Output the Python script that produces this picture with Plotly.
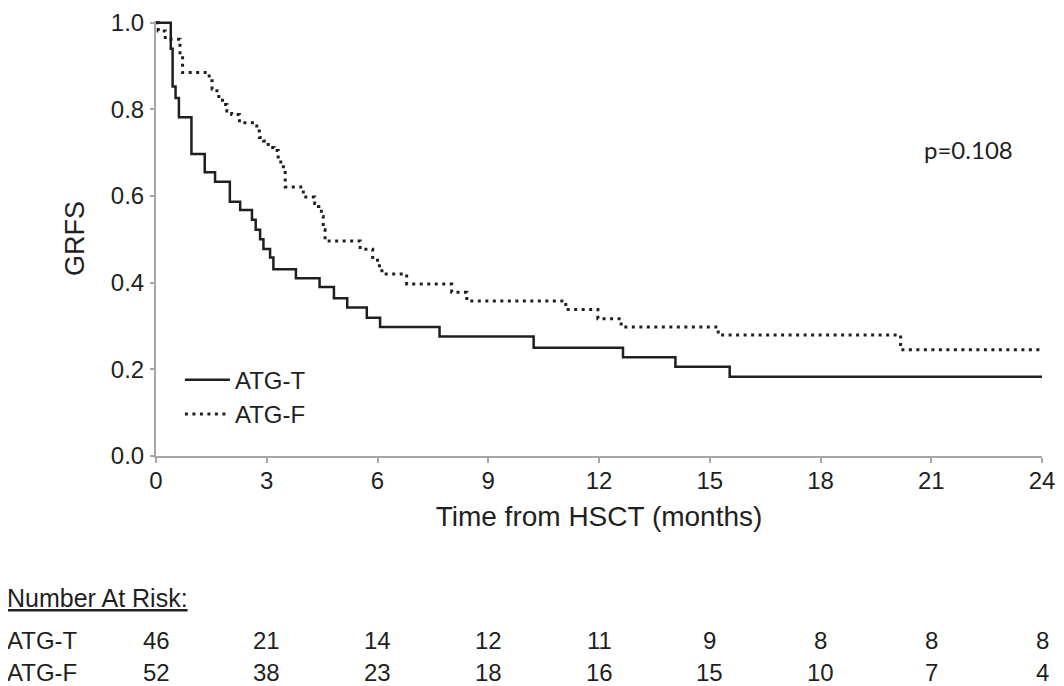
import plotly.graph_objects as go

# Kaplan-Meier step points (months, GRFS)
atg_t_time = [0, 0.40, 0.45, 0.53, 0.62, 0.96, 1.32, 1.60, 2.00, 2.28, 2.60, 2.70,
              2.82, 2.91, 3.09, 3.18, 3.79, 4.43, 4.82, 5.18, 5.71, 6.07, 7.68,
              10.23, 12.65, 14.07, 15.54, 24]
atg_t_surv = [1.0, 0.94, 0.853, 0.826, 0.782, 0.697, 0.655, 0.633, 0.587, 0.568, 0.545, 0.522,
              0.500, 0.478, 0.458, 0.431, 0.410, 0.390, 0.364, 0.343, 0.319, 0.298, 0.276,
              0.250, 0.228, 0.206, 0.183, 0.183]

atg_f_time = [0, 0.06, 0.25, 0.65, 0.72, 1.44, 1.52, 1.65, 1.80, 1.92, 2.05, 2.26,
              2.73, 2.80, 2.91, 3.04, 3.20, 3.31, 3.38, 3.45, 3.50, 3.99, 4.30, 4.40,
              4.48, 4.53, 4.58, 5.53, 5.87, 6.00, 6.12, 6.79, 8.01, 8.42, 11.10, 11.97,
              12.60, 15.23, 20.17, 24]
atg_f_surv = [1.0, 0.981, 0.962, 0.923, 0.885, 0.866, 0.847, 0.830, 0.811, 0.796, 0.788, 0.769,
              0.750, 0.735, 0.727, 0.712, 0.705, 0.690, 0.674, 0.659, 0.621, 0.598, 0.583, 0.576,
              0.553, 0.522, 0.496, 0.477, 0.458, 0.439, 0.420, 0.397, 0.378, 0.358, 0.338, 0.317,
              0.298, 0.279, 0.245, 0.245]

# number at risk table
risk_times = [0, 3, 6, 9, 12, 15, 18, 21, 24]
atg_t_risk = [46, 21, 14, 12, 11, 9, 8, 8, 8]
atg_f_risk = [52, 38, 23, 18, 16, 15, 10, 7, 4]

FONT = "Liberation Sans, Arial, sans-serif"
INK = "#1f1f1f"
AXIS = "#a6a6a6"

fig = go.Figure()
fig.add_trace(go.Scatter(x=atg_t_time, y=atg_t_surv, mode="lines", name="ATG-T",
                         line=dict(shape="hv", color=INK, width=2.5)))
fig.add_trace(go.Scatter(x=atg_f_time, y=atg_f_surv, mode="lines", name="ATG-F",
                         line=dict(shape="hv", color=INK, width=3, dash="3px,4.5px")))

# page body adds 8px, so the figure is 8px smaller than the window
fig.update_layout(
    width=1056, height=678,
    margin=dict(l=148, r=22, t=13, b=230),
    paper_bgcolor="white", plot_bgcolor="white",
    font=dict(family=FONT, size=24, color=INK),
    showlegend=True,
    legend=dict(x=0.027, y=0.226, xanchor="left", yanchor="top", itemwidth=45,
                bgcolor="rgba(0,0,0,0)", font=dict(size=24), tracegroupgap=0),
)
fig.update_xaxes(range=[0, 24], tickvals=risk_times, showgrid=False, zeroline=False,
                 showline=True, linecolor=AXIS, linewidth=2, ticks="outside",
                 tickcolor=AXIS, ticklen=5, tickwidth=1.5, ticklabelstandoff=-3,
                 ticklabeloverflow="allow", automargin=False,
                 title=dict(text="Time from HSCT (months)", font=dict(size=28), standoff=14))
fig.update_yaxes(range=[0, 1.004], tickvals=[0, 0.2, 0.4, 0.6, 0.8, 1.0],
                 ticktext=["0.0", "0.2", "0.4", "0.6", "0.8", "1.0"],
                 showgrid=False, zeroline=False, ticklabelstandoff=1,
                 ticklabeloverflow="allow", automargin=False,
                 showline=True, linecolor=AXIS, linewidth=2, ticks="outside",
                 tickcolor=AXIS, ticklen=4, tickwidth=1.5,
                 title=dict(text="GRFS", font=dict(size=27), standoff=18))

fig.add_annotation(x=22.0, y=0.707, xref="x", yref="y", text="p=0.108", showarrow=False,
                   font=dict(family="Lato, Open Sans, sans-serif", size=24, color=INK))

# number at risk table below the axis
fig.add_annotation(x=-0.1704, y=-0.326, xref="paper", yref="paper", xanchor="left",
                   yanchor="middle", text="<u>Number At Risk:</u>", showarrow=False,
                   font=dict(size=25))
for label, row, ypos in [("ATG-T", atg_t_risk, -0.425), ("ATG-F", atg_f_risk, -0.498)]:
    fig.add_annotation(x=-0.1704, y=ypos, xref="paper", yref="paper", xanchor="left",
                       yanchor="middle", text=label, showarrow=False, font=dict(size=24))
    for t, n in zip(risk_times, row):
        fig.add_annotation(x=t, y=ypos, xref="x", yref="paper", yanchor="middle",
                           text=str(n), showarrow=False, font=dict(size=24))

fig.write_html("out.html")
